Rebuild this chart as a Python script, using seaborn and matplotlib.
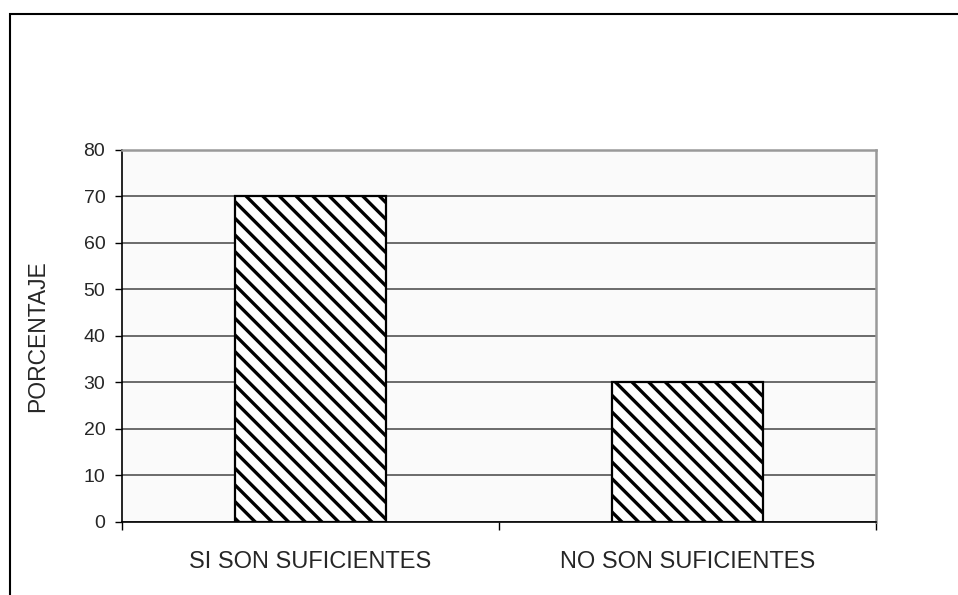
import pandas as pd
import matplotlib
matplotlib.use('Agg')
import matplotlib.pyplot as plt
import seaborn as sns
from matplotlib.patches import Rectangle

# data
categorias = ['SI SON SUFICIENTES', 'NO SON SUFICIENTES']
porcentajes = [70, 30]
y_ticks = [0, 10, 20, 30, 40, 50, 60, 70, 80]

df = pd.DataFrame({'Categoria': categorias, 'Porcentaje': porcentajes})

sns.set_style('white')
plt.rcParams['font.family'] = ['Liberation Sans', 'DejaVu Sans']
plt.rcParams['hatch.linewidth'] = 2.4
plt.rcParams['hatch.color'] = 'black'

fig = plt.figure(figsize=(9.58, 5.95), dpi=100)
ax = fig.add_axes([0.1273, 0.1227, 0.7871, 0.6252])
ax.set_facecolor('#fafafa')

sns.barplot(data=df, x='Categoria', y='Porcentaje', color='white',
            width=0.4, edgecolor='black', linewidth=1.6, ax=ax, zorder=3)
for p in ax.patches:
    p.set_hatch('\\\\')

ax.set_xlim(-0.5, 1.5)
ax.set_ylim(0, 80)
ax.set_yticks(y_ticks)
ax.yaxis.grid(True, color='#444444', linewidth=1.1, zorder=0)
ax.set_axisbelow(True)

# category boundary ticks and centered labels
ax.set_xticks([-0.5, 0.5, 1.5])
ax.set_xticklabels([])
ax.set_xticks([0, 1], minor=True)
ax.set_xticklabels(categorias, minor=True, fontsize=17)
ax.tick_params(axis='x', which='major', direction='out', length=6, width=1, color='black', bottom=True)
ax.tick_params(axis='x', which='minor', length=0, pad=21)
ax.tick_params(axis='y', direction='out', length=5, width=1, color='black', left=True, labelsize=14, pad=7)

ax.set_xlabel('')
ax.set_ylabel('PORCENTAJE', fontsize=16.5, labelpad=25)

for side in ['left', 'bottom']:
    ax.spines[side].set_color('black')
    ax.spines[side].set_linewidth(1.2)
for side in ['top', 'right']:
    ax.spines[side].set_color('#999999')
    ax.spines[side].set_linewidth(1.8)

# outer chart frame (left and top only visible)
fig.patches.append(Rectangle((10 / 958, -0.1), 1.2, 1 - 14 / 595 + 0.1,
                             transform=fig.transFigure, fill=False,
                             edgecolor='black', linewidth=1.5))

fig.savefig('out.png', dpi=100)
